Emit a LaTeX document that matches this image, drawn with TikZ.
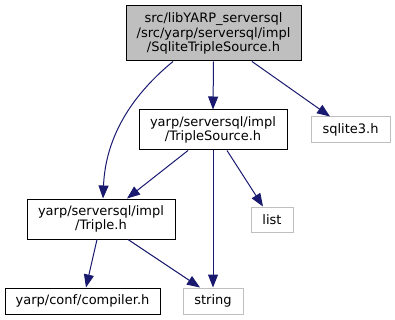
\documentclass[tikz,border=0pt]{standalone}
\usepackage{fontspec}
\setmainfont{DejaVu Sans}
\usetikzlibrary{arrows.meta}
\definecolor{edgeblue}{HTML}{191970}
\definecolor{boxgray}{HTML}{BFBFBF}
\tikzset{
  filebox/.style={draw=black, line width=1pt, rectangle, inner sep=0pt,
    align=center, font=\fontsize{13}{14.5}\selectfont},
  mainbox/.style={filebox, fill=boxgray},
  sysbox/.style={filebox, draw=boxgray},
  dep/.style={draw=edgeblue, line width=1pt,
    -{Triangle[length=13pt,width=10pt]}, edgeblue},
}
\begin{document}
\begin{tikzpicture}[x=1pt, y=-1pt]
  \useasboundingbox (0,0) rectangle (395,320);

  \node[mainbox, minimum width=175pt, minimum height=55pt] (src) at (213.5,33.5)
    {src/libYARP\_serversql\\/src/yarp/serversql/impl\\/SqliteTripleSource.h};
  \node[filebox, minimum width=148pt, minimum height=40pt] (tsrc) at (213,130)
    {yarp/serversql/impl\\/TripleSource.h};
  \node[sysbox, minimum width=79pt, minimum height=26pt] (sqlite) at (350.5,130)
    {sqlite3.h};
  \node[filebox, minimum width=148pt, minimum height=40pt] (triple) at (101,219)
    {yarp/serversql/impl\\/Triple.h};
  \node[sysbox, minimum width=42pt, minimum height=25pt] (list) at (272,219.5)
    {list};
  \node[filebox, minimum width=155pt, minimum height=26pt] (compiler) at (82.5,301)
    {yarp/conf/compiler.h};
  \node[sysbox, minimum width=60pt, minimum height=26pt] (string) at (213,301)
    {string};

  \draw[dep] ([xshift=-40.5pt]src.south) .. controls (120,105) and (105,150) .. ([xshift=2pt]triple.north);
  \draw[dep] (src.south) -- (tsrc.north);
  \draw[dep] ([xshift=38.5pt]src.south) -- ([xshift=-20.5pt]sqlite.north);
  \draw[dep] ([xshift=-25pt]tsrc.south) -- ([xshift=26pt]triple.north);
  \draw[dep] (tsrc.south) -- (string.north);
  \draw[dep] ([xshift=14pt]tsrc.south) -- ([xshift=-9pt]list.north);
  \draw[dep] ([xshift=-4pt]triple.south) -- ([xshift=3.5pt]compiler.north);
  \draw[dep] ([xshift=27pt]triple.south) -- ([xshift=-13pt]string.north);
\end{tikzpicture}
\end{document}
